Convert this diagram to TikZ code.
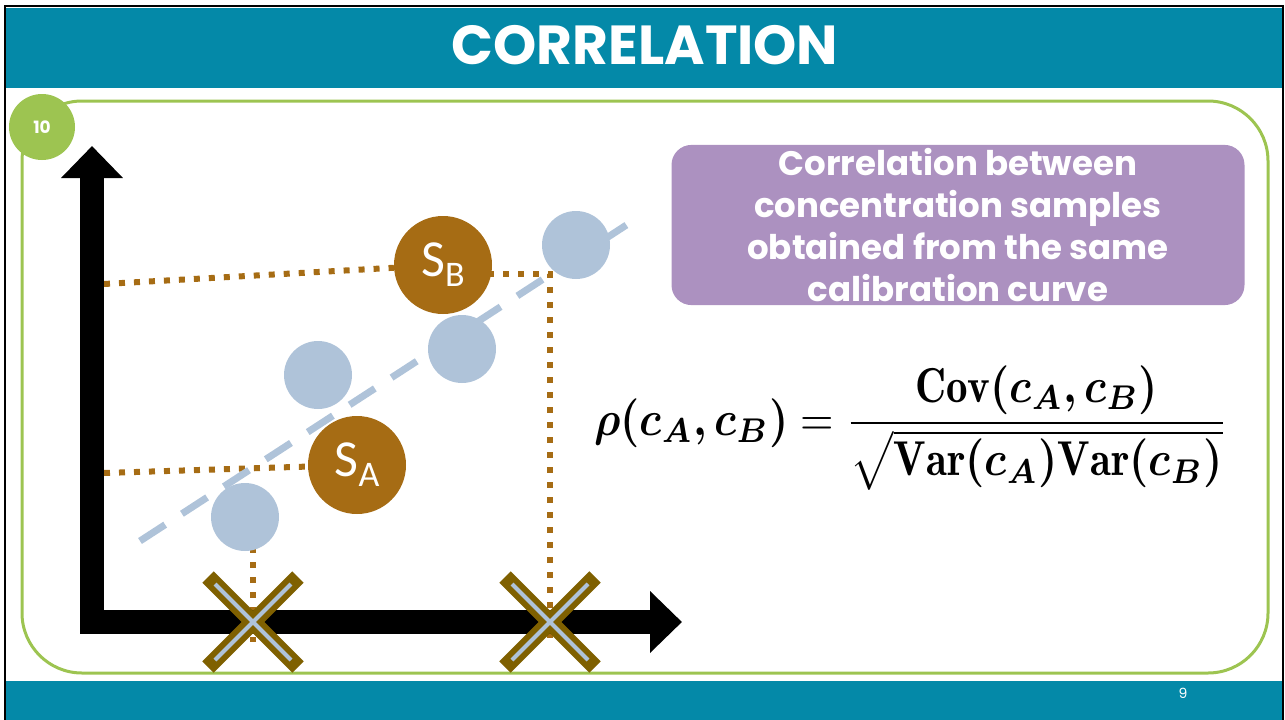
\documentclass[tikz,border=0pt]{standalone}
\usepackage{amsmath}
\usepackage{bm}
\usepackage{graphicx}
\usepackage{fontspec}
\usepackage{xcolor}
\usepackage{tikz}
\usetikzlibrary{positioning, calc, arrows.meta, backgrounds}

\newfontfamily\slidefont{Poppins}
\newfontfamily\calfont{Carlito}

\definecolor{slideteal}{RGB}{4,137,168}
\definecolor{framegreen}{RGB}{157,196,81}
\definecolor{samplebrown}{RGB}{166,108,20}
\definecolor{pointblue}{RGB}{175,195,217}
\definecolor{notepurple}{RGB}{172,145,192}
\definecolor{crossbrown}{RGB}{127,96,0}

\begin{document}
\begin{tikzpicture}[
    x=1pt, y=-1pt,
    band/.style={fill=slideteal, draw=none},
    point/.style={circle, fill=pointblue, minimum size=68pt, inner sep=0pt},
    sample/.style={circle, fill=samplebrown, minimum size=98pt, inner sep=0pt, text=white, font=\calfont\fontsize{52}{52}\selectfont},
    guide/.style={samplebrown, line width=6pt, dash pattern=on 6pt off 9pt},
    trend/.style={pointblue, line width=7pt, dash pattern=on 30pt off 20pt},
    axis/.style={line width=24pt, miter limit=10, {Triangle[width=60pt,length=32pt]}-{Triangle[width=60pt,length=32pt]}},
    crossbar/.style={crossbrown, line width=16pt},
    crossline/.style={pointblue, line width=4pt},
    note/.style={fill=notepurple, rounded corners=20pt, minimum width=573pt, minimum height=154pt,
                 text=white, align=center, font=\slidefont\bfseries\fontsize{34}{42}\selectfont},
]
\useasboundingbox (0,0) rectangle (1285,720);

\newcommand{\sublabel}[2]{#1\raisebox{-10pt}{\fontsize{36}{36}\selectfont #2}}

% ─── Slide frame ───
\draw[band] (6,8) rectangle (1282,88);
\draw[band] (6,681) rectangle (1282,720);
\draw[black, line width=2pt] (5,720) -- (5,6) -- (1283,6) -- (1283,720);
\node[text=white, font=\slidefont\bfseries\fontsize{55}{60}\selectfont] (title) at (645,45) {CORRELATION};
\node[text=white, font=\slidefont\fontsize{14}{16}\selectfont] (pagenum) at (1183,693) {9};

\draw[framegreen, line width=3pt, rounded corners=60pt] (22,101) rectangle (1268,673);
\node[circle, fill=framegreen, minimum size=66pt, inner sep=0pt, text=white,
      font=\slidefont\bfseries\fontsize{17}{20}\selectfont] (badge) at (42,127) {10};

% ─── Anchor points on the axes ───
\coordinate (origin) at (92,622);
\coordinate (ytip)   at (92,146);
\coordinate (xtip)   at (682,622);
\coordinate (levelB) at (104,284);
\coordinate (levelA) at (104,473);
\coordinate (cornerB) at (550,274);
\coordinate (tickB) at (550,622);
\coordinate (tickA) at (253,622);

% ─── Points and samples ───
\node[point] (p1) at (245,517) {};
\node[point] (p2) at (318,375) {};
\node[point] (p3) at (462,349) {};
\node[point] (p4) at (576,245) {};
\node[sample] (sB) at (443,265) {\sublabel{S}{B}};
\node[sample] (sA) at (357,465) {\sublabel{S}{A}};

% ─── Guides, trend line and axes (behind the circles) ───
\begin{scope}[on background layer]
    \draw[guide] (levelB) -- (sB);
    \draw[guide] (sB.center |- cornerB) -- (cornerB) -- ([yshift=-20pt]tickB);
    \draw[guide] (levelA) -- (sA);
    \draw[guide] (p1.center -| tickA) -- ([yshift=-20pt]tickA);
    \draw[trend] (140,541) -- (628,224);
    \draw[axis] (ytip) -- (origin) -- (xtip);
\end{scope}

% ─── Crosses on the x axis ───
\foreach \t in {tickA, tickB} {
    \draw[crossbar] ($(\t)+(-45,-45)$) -- ($(\t)+(45,45)$);
    \draw[crossbar] ($(\t)+(45,-45)$) -- ($(\t)+(-45,45)$);
    \draw[crossline] ($(\t)+(-38,-38)$) -- ($(\t)+(38,38)$);
    \draw[crossline] ($(\t)+(38,-38)$) -- ($(\t)+(-38,38)$);
}

% ─── Note and formula ───
\node[note] (note) at (958,225) {Correlation between\\concentration samples\\obtained from the same\\calibration curve};

\node (formula) at (911,428)
    {\scalebox{4.3}[4.9]{$\boldsymbol{\rho(c_A,c_B)} = \dfrac{\mathbf{Cov}\boldsymbol{(c_A,c_B)}}{\sqrt{\mathbf{Var}\boldsymbol{(c_A)}\mathbf{Var}\boldsymbol{(c_B)}}}$}};

\end{tikzpicture}
\end{document}
